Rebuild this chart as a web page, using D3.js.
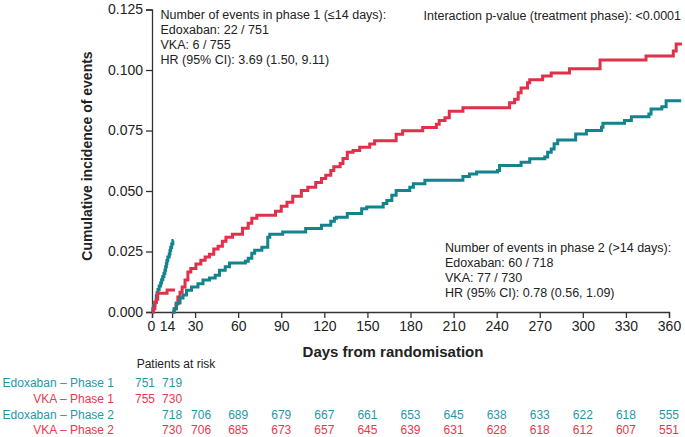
<!DOCTYPE html>
<html>
<head>
<meta charset="utf-8">
<script src="https://cdn.jsdelivr.net/npm/d3@7"></script>
<style>
  html, body { margin: 0; padding: 0; background: #fff; }
  svg { display: block; font-family: "Liberation Sans", Arial, sans-serif; }
</style>
</head>
<body>
<svg id="chart" width="685" height="437"></svg>
<script>
// ---------- DATA ----------
const xTicks = [0, 14, 30, 60, 90, 120, 150, 180, 210, 240, 270, 300, 330, 360];
const yTicks = [0, 0.025, 0.05, 0.075, 0.1, 0.125];

// Phase 1 (<=14 days)
const edoxP1Days = [0, 0.5, 1, 2, 3, 3.5, 4.2, 5, 6, 6.7, 7.5, 8.3, 9, 9.5, 10, 10.4, 11, 12, 12.5, 13, 13.7, 14.5, 15];
const edoxP1Vals = [0, 0.0013, 0.0027, 0.004, 0.0067, 0.008, 0.0093, 0.0107, 0.012, 0.0133, 0.0147, 0.016, 0.0173, 0.0187, 0.02, 0.0213, 0.0227, 0.024, 0.0254, 0.0267, 0.0281, 0.0295, 0.0295];
const vkaP1Days = [0, 1, 2, 3, 4, 10.5, 16];
const vkaP1Vals = [0, 0.0013, 0.004, 0.0053, 0.0077, 0.0091, 0.0091];

// Phase 2 (>14 days)
const edoxP2Days = [14, 15.5, 17, 19.5, 21.6, 24, 27.5, 32, 35.5, 40, 44, 47, 51, 54, 65, 67, 69.5, 71.5, 76.5, 80.6, 82, 91, 107, 118, 124.5, 127, 128.5, 136, 146, 149.5, 161, 163.5, 167, 170, 179.5, 182, 190, 216.5, 221, 226, 240.6, 242, 257, 263, 273.5, 275.5, 278, 280, 282.5, 295, 302.5, 313, 314, 329, 333.8, 346, 347.5, 355, 358, 368.5];
const edoxP2Vals = [0, 0.0013, 0.0037, 0.0058, 0.007, 0.009, 0.0103, 0.0117, 0.0132, 0.014, 0.0152, 0.0173, 0.0187, 0.0202, 0.021, 0.0222, 0.0243, 0.0255, 0.0268, 0.0309, 0.0321, 0.0331, 0.0345, 0.0358, 0.0375, 0.0387, 0.0392, 0.0407, 0.0427, 0.0434, 0.0448, 0.0461, 0.0482, 0.0502, 0.0516, 0.053, 0.0544, 0.056, 0.057, 0.0578, 0.0585, 0.0605, 0.0619, 0.0633, 0.064, 0.066, 0.0674, 0.0695, 0.0711, 0.0736, 0.075, 0.0763, 0.078, 0.0791, 0.0807, 0.0818, 0.0839, 0.0848, 0.0873, 0.0873];
const vkaP2Days = [14, 15.5, 16.7, 18, 19.5, 21, 23, 25, 27, 30.6, 34, 37, 40, 43, 46, 49, 51.5, 56, 63, 67, 69.5, 73, 86, 90, 94, 98, 104, 108.5, 114, 118, 121, 124.5, 126.6, 131, 133, 136, 140, 144.6, 151.6, 155, 170, 174.5, 188.5, 198, 200, 204, 207, 216.5, 249, 252.5, 255, 257, 261.5, 263, 272, 278, 290.7, 312, 344, 363, 365, 369];
const vkaP2Vals = [0, 0.0013, 0.0033, 0.0062, 0.0082, 0.0103, 0.0132, 0.0165, 0.018, 0.0198, 0.0214, 0.0227, 0.0239, 0.026, 0.0272, 0.0292, 0.0309, 0.0321, 0.0346, 0.0367, 0.0387, 0.04, 0.0416, 0.0437, 0.0453, 0.0478, 0.0502, 0.0515, 0.0535, 0.0552, 0.0565, 0.0585, 0.06, 0.0614, 0.0634, 0.066, 0.0667, 0.0681, 0.0694, 0.0708, 0.0735, 0.0749, 0.0762, 0.0776, 0.0791, 0.0803, 0.083, 0.0844, 0.0865, 0.0879, 0.0906, 0.0926, 0.0947, 0.096, 0.0975, 0.0988, 0.1005, 0.1041, 0.1058, 0.1079, 0.1107, 0.1107];

// Patients at risk
const riskLabels = ["Edoxaban \u2013 Phase 1", "VKA \u2013 Phase 1", "Edoxaban \u2013 Phase 2", "VKA \u2013 Phase 2"];
const riskP1Days = [0, 14];
const edoxP1Risk = [751, 719];
const vkaP1Risk = [755, 730];
const riskP2Days = [14, 30, 60, 90, 120, 150, 180, 210, 240, 270, 300, 330, 360];
const edoxP2Risk = [718, 706, 689, 679, 667, 661, 653, 645, 638, 633, 622, 618, 555];
const vkaP2Risk = [730, 706, 685, 673, 657, 645, 639, 631, 628, 618, 612, 607, 551];

const phase1Text = ["Number of events in phase 1 (\u226414 days):", "Edoxaban: 22 / 751", "VKA: 6 / 755", "HR (95% CI): 3.69 (1.50, 9.11)"];
const phase2Text = ["Number of events in phase 2 (>14 days):", "Edoxaban: 60 / 718", "VKA: 77 / 730", "HR (95% CI): 0.78 (0.56, 1.09)"];
const interactionText = "Interaction p-value (treatment phase): <0.0001";

// ---------- DRAW ----------
const TEAL = "#13838e", RED = "#e2304b";
const TEAL_TXT = "#1f98a8", RED_TXT = "#e8384e";
const svg = d3.select("#chart");
const x = d3.scaleLinear().domain([0, 360]).range([152, 669]);
const y = d3.scaleLinear().domain([0, 0.125]).range([312, 9.5]);

// Axes
const yAxis = d3.axisLeft(y).tickValues(yTicks).tickFormat(d3.format(".3f")).tickSize(6).tickPadding(3);
const gy = svg.append("g").attr("transform", "translate(152,0)").call(yAxis);
gy.selectAll("text").attr("font-size", 14).attr("fill", "#222").attr("font-family", "Liberation Sans, Arial, sans-serif");

const xAxis = d3.axisBottom(x).tickValues(xTicks).tickFormat(d3.format("d")).tickSize(6).tickPadding(3);
const gx = svg.append("g").attr("transform", "translate(0,312)").call(xAxis);
gx.selectAll("text").attr("font-size", 14).attr("fill", "#222").attr("font-family", "Liberation Sans, Arial, sans-serif")
  .attr("dx", d => d === 14 ? -5 : (d === 0 ? -1 : 0));
[gx, gy].forEach(g => {
  g.select(".domain").attr("stroke", "#333").attr("stroke-width", 1.3);
  g.selectAll(".tick line").attr("stroke", "#333").attr("stroke-width", 1.3);
});

// Axis titles
svg.append("text").attr("x", 393).attr("y", 357).attr("text-anchor", "middle")
  .attr("font-size", 15).attr("font-weight", "bold").attr("fill", "#222").text("Days from randomisation");
svg.append("text").attr("transform", "translate(92,156) rotate(-90)").attr("text-anchor", "middle")
  .attr("font-size", 14).attr("font-weight", "bold").attr("fill", "#222").text("Cumulative incidence of events");

// Curves
const line = d3.line().x(d => x(d[0])).y(d => y(d[1])).curve(d3.curveStepAfter);
const series = [
  [edoxP1Days, edoxP1Vals, TEAL],
  [vkaP1Days, vkaP1Vals, RED],
  [vkaP2Days, vkaP2Vals, RED],
  [edoxP2Days, edoxP2Vals, TEAL]
];
series.forEach(([ds, vs, c]) => {
  svg.append("path").datum(ds.map((d, i) => [d, vs[i]]))
    .attr("d", line).attr("fill", "none").attr("stroke", c)
    .attr("stroke-width", 3).attr("stroke-linejoin", "miter");
});

// Annotations
const ann = svg.append("g").attr("font-size", 12.5).attr("fill", "#222");
phase1Text.forEach((t, i) => ann.append("text").attr("x", 160.5).attr("y", 18.5 + i * 15.3).text(t));
phase2Text.forEach((t, i) => ann.append("text").attr("x", 445).attr("y", 251.5 + i * 15).text(t));
ann.append("text").attr("x", 681).attr("y", 19.5).attr("text-anchor", "end").text(interactionText);

// Patients at risk table
const tbl = svg.append("g").attr("font-size", 12);
tbl.append("text").attr("x", 176).attr("y", 367.5).attr("text-anchor", "middle").attr("fill", "#222").text("Patients at risk");
const rowY = [386.5, 402.5, 418.5, 434];
const rowCol = [TEAL_TXT, RED_TXT, TEAL_TXT, RED_TXT];
riskLabels.forEach((t, i) => tbl.append("text").attr("x", 114).attr("y", rowY[i])
  .attr("text-anchor", "end").attr("fill", rowCol[i]).text(t));
const nudge = d => d === 0 ? -7 : (d === 30 ? 6 : 0);
const rows = [[riskP1Days, edoxP1Risk], [riskP1Days, vkaP1Risk], [riskP2Days, edoxP2Risk], [riskP2Days, vkaP2Risk]];
rows.forEach(([ds, vs], i) => {
  ds.forEach((d, j) => tbl.append("text").attr("x", x(d) + nudge(d)).attr("y", rowY[i])
    .attr("text-anchor", "middle").attr("fill", rowCol[i]).text(vs[j]));
});
</script>
</body>
</html>
